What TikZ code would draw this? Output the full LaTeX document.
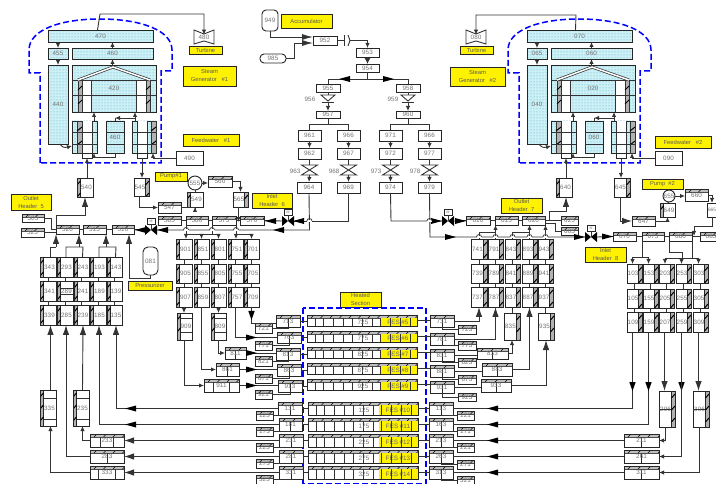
\documentclass[tikz,border=0pt]{standalone}
\usepackage{fontspec}
\setmainfont{Liberation Sans}
\usetikzlibrary{arrows.meta,patterns}
\definecolor{cyl}{RGB}{205,240,245}
\definecolor{cyd}{RGB}{70,170,210}
\tikzset{
 ln/.style={line width=.9pt,draw=black!80},
 ar/.style={ln,-{Latex[length=5pt,width=4.5pt]}},
 ba/.style={ln,-{Latex[length=10pt,width=6.5pt]}},
 txt/.style={font=\fontsize{6.3}{7}\selectfont,text=black!55,inner sep=0pt},
 bx/.style={txt,draw=black!85,line width=.9pt,outer sep=0pt},
 cbx/.style={bx,preaction={fill=cyl},pattern=dots,pattern color=cyd},
 yel/.style={bx,fill=yellow,text=black!65,align=center,font=\fontsize{5.8}{8}\selectfont},
 yin/.style={txt,text=black!60,inner sep=0pt},
 sgd/.style={draw=blue,line width=1.5pt,dash pattern=on 6pt off 3pt},
 stripn/.style={fill=white},
 stript/.style={fill=white,path picture={
   \fill[black!25] (path picture bounding box.north west) rectangle ([yshift=-3pt]path picture bounding box.north east);
   \draw[black!70,line width=.4pt] ([yshift=-3pt]path picture bounding box.north west) -- ([yshift=-3pt]path picture bounding box.north east);
   \foreach \t in {4,13.5,...,120}{\draw[black,line width=.6pt] ([xshift=\t pt,yshift=-3pt]path picture bounding box.north west) -- ++(3,-3);}}},
 stripc/.style={fill=white,path picture={
   \fill[black!25] (path picture bounding box.north west) rectangle ([yshift=-3pt]path picture bounding box.north east);
   \draw[black!70,line width=.4pt] ([yshift=-3pt]path picture bounding box.north west) -- ([yshift=-3pt]path picture bounding box.north east);
   \draw[black!85,line width=.8pt] ([yshift=-3pt]path picture bounding box.north) -- (path picture bounding box.south);
   \foreach \t in {4,14,...,40}{\draw[black,line width=.6pt] ([xshift=\t pt,yshift=-3pt]path picture bounding box.north west) -- ++(3,-3);}}},
 stripl/.style={fill=white,path picture={
   \fill[black!30] (path picture bounding box.north west) rectangle ([xshift=3.5pt]path picture bounding box.south west);
   \draw[black!85,line width=.6pt] ([xshift=3.5pt]path picture bounding box.north west) -- ([xshift=3.5pt]path picture bounding box.south west);
   \foreach \t in {7,19,...,45}{\draw[black,line width=1pt] ([yshift=-\t pt]path picture bounding box.north west) -- ++(3.5,-4);}}},
 stripr/.style={fill=white,path picture={
   \fill[black!30] (path picture bounding box.north east) rectangle ([xshift=-3.5pt]path picture bounding box.south east);
   \draw[black!85,line width=.6pt] ([xshift=-3.5pt]path picture bounding box.north east) -- ([xshift=-3.5pt]path picture bounding box.south east);
   \foreach \t in {7,19,...,45}{\draw[black,line width=1pt] ([xshift=-3.5pt,yshift=-\t pt]path picture bounding box.north east) -- ++(3.5,-4);}}},
}
\newcommand\zwn[1]{#1}
\newcommand\zwl[1]{\hspace*{3pt}#1}
\newcommand\zwr[1]{#1\hspace*{3pt}}
\newcommand\zwt[1]{\raisebox{-1.3pt}{#1}}
\newcommand\zwc[1]{\raisebox{-1.3pt}{#1}}
\newcommand\zsz[4]{\pgfmathsetmacro\zzx{(#1+#3)/2}\pgfmathsetmacro\zzy{(#2+#4)/2}\pgfmathsetmacro\zzw{#3-#1}\pgfmathsetmacro\zzh{#4-#2}}
\newcommand\zb[7]{\zsz{#2}{#3}{#4}{#5}\node[bx,strip#7,minimum width=\zzw pt,minimum height=\zzh pt] (#1) at (\zzx,\zzy) {\csname zw#7\endcsname{#6}};}
\newcommand\zc[6]{\zsz{#2}{#3}{#4}{#5}\node[cbx,minimum width=\zzw pt,minimum height=\zzh pt] (#1) at (\zzx,\zzy) {#6};}
\newcommand\zy[6]{\zsz{#2}{#3}{#4}{#5}\node[yel,minimum width=\zzw pt,minimum height=\zzh pt] (#1) at (\zzx,\zzy) {#6};}
\newcommand\tipL[2]{\fill[black] (#1,#2) -- ++(11,-3) -- ++(0,6) -- cycle;}
\newcommand\tipR[2]{\fill[black] (#1,#2) -- ++(-11,-3) -- ++(0,6) -- cycle;}
\newcommand\tipD[2]{\fill[black] (#1,#2) -- ++(-3.2,-9) -- ++(6.4,0) -- cycle;}
\newcommand\hopx[2]{\fill[white] ({#1-2.5},{#2-.7}) rectangle ({#1+2.5},{#2+.7});\draw[ln,line width=.7pt] ({#1-2.5},#2) arc[start angle=180,end angle=360,radius=2.5];}
\newcommand\vst[4]{\fill[black!30] (#1,#2) rectangle (#3,#4);\draw[ln] (#1,#2) rectangle (#3,#4);\draw[black,line width=1pt] (#1,{#2+10}) -- (#3,{#2+6}) (#1,{#2+24}) -- (#3,{#2+20});}
\newcommand\vlv[3]{\coordinate (#1) at (#2,#3);
  \fill[black] ({#2-6},{#3-5}) -- (#1) -- ({#2-6},{#3+5}) -- cycle;
  \fill[black] ({#2+6},{#3-5}) -- (#1) -- ({#2+6},{#3+5}) -- cycle;
  \node[bx,fill=white,font=\fontsize{3.5}{4}\selectfont,minimum width=8pt,minimum height=5.5pt] (#1m) at (#2,{#3-8.5}) {M};
  \draw[ln] (#1m.south) -- (#1);}
\newcommand\xv[3]{\draw[ln] ({#1-8},#2) -- ({#1+8},#2) -- ({#1-8},#3) -- ({#1+8},#3) -- cycle;}
\newcommand\chk[2]{\draw[ln,fill=white] ({#1-7},{#2-3}) -- ({#1+7},{#2-3}) -- (#1,{#2+3}) -- cycle;\draw[ln] ({#1-6},{#2+4}) -- ({#1+6},{#2+4});}
\newcommand\sgen[9]{%
\begin{scope}[shift={(#2,0)}]
 \draw[sgd] (40,163) -- (40,73) -- (29,73) -- (29,50) .. controls (29,30) and (60,19) .. (100,19) .. controls (140,19) and (172,30) .. (172,50) -- (172,71) -- (161,71) -- (161,163) -- cycle;
 \zc{#1t}{48}{30}{153}{42}{#3}
 \zc{#1sd}{48}{48}{68}{59}{#4}
 \zc{#1sp}{72}{48}{153}{59}{#5}
 \zc{#1v}{48}{65}{68}{144}{#6}
 \zc{#1core}{72}{65}{156}{112}{#7}
 \fill[white] (82,80) rectangle (91,112) (136,80) rectangle (146,112);
 \vst{78}{80}{82}{112}\vst{146}{80}{150}{112}
 \draw[ln] (72,80) -- (156,80);
 \draw[ln] (72,95) -- (156,95);
 \draw[ln] (91,80) -- (91,112);
 \draw[ln] (136,80) -- (136,112);
 \draw[ln,double=white,double distance=1.5pt,line width=.7pt] (78,80) -- (113,67) -- (150,80);
 \zc{#1lb}{72}{121}{97}{153}{}
 \fill[white] (82,121) rectangle (92,153);
 \vst{77}{121}{82}{153}
 \draw[ln] (92,121) -- (92,153);
 \draw[ln] (72,132) -- (97,132);
 \draw[ln] (72,144) -- (97,144);
 \zc{#1rb}{132}{121}{156}{153}{}
 \fill[white] (137,121) rectangle (147,153);
 \vst{151}{121}{156}{153}
 \draw[ln] (137,121) -- (137,153);
 \draw[ln] (147,121) -- (147,153);
 \draw[ln] (132,132) -- (156,132);
 \draw[ln] (132,144) -- (156,144);
 \zc{#1mid}{106}{121}{124}{153}{#8}
 \draw[ln] (106,132) -- (124,132);
 \draw[ln] (106,144) -- (124,144);
 \zb{#1lo}{82}{153}{92}{158}{}{n}
 \zb{#1ro}{137}{153}{147}{158}{}{n}
 \zb{#1fw}{176}{151}{203}{165}{#9}{n}
 \draw[ar] (#1sd.north |- #1t.south) -- (#1sd.north);
 \draw[ar] (#1sd.south) -- (#1v.north);
 \draw[ar] (#1sp.north) -- (#1sp.north |- #1t.south);
 \draw[ar] (#1sp.south |- #1core.north) -- (#1sp.south);
 \draw[ar] ([xshift=9.5pt]#1lb.north) -- ([xshift=9.5pt]#1lb.north |- #1core.south);
 \draw[ar] ([xshift=-9pt]#1rb.north) -- ([xshift=-9pt]#1rb.north |- #1core.south);
 \draw[ar] (135,118) -- (115,118);
 \draw[ln] (115,118) -- (#1mid.north);
 \draw[ar] (#1mid.south) -- (115,157) -- (94,157) -- (94,153);
 \draw[ar] ([xshift=2pt]#1v.south) .. controls +(2,3) and +(-8,2) .. ([yshift=7pt]#1lb.south west);
 \draw[ar] (#1fw.west) -- (153,158) -- (153,153);
\end{scope}}
\begin{document}
\begin{tikzpicture}[x=1pt,y=-1pt]
\useasboundingbox (0,0) rectangle (716,484);
\fill[white] (0,0) rectangle (716,484);

% steam generators
\sgen{L}{0}{470}{455}{460}{440}{420}{460}{490}
\sgen{R}{479}{070}{065}{060}{040}{020}{060}{090}
\foreach \c in {204,476}{\draw[ln,fill=white] ({\c-10},30) -- (\c,34) -- ({\c+10},30) -- ({\c+10},44) -- (\c,41) -- ({\c-10},44) -- cycle;}
\node[txt] (t480) at (204,37) {480};
\node[txt] (t080) at (476,37) {080};
\zy{yt1}{189}{46}{222}{54}{Turbine}
\zy{yt2}{460}{46}{493}{54}{Turbine}
\zy{ysg1}{183}{66}{236}{86}{Steam\\Generator\ \ \ \#1}
\zy{ysg2}{450}{67}{505}{86}{Steam\\Generator\ \ \ \#2}
\zy{yfw1}{183}{134}{239}{146}{Feedwater\ \ \ \#1}
\zy{yfw2}{655}{136}{711}{148}{Feedwater\ \ \ \#2}
\draw[ar] ([xshift=-3pt]Lt.north) -- (100,14) -- (204,14) -- (t480.north);
\draw[ar] ([xshift=-4pt]Rt.north) -- (576,15) -- (476,15) -- (t080.north);

% accumulator tree
\node[bx,fill=white,rounded corners=4pt,minimum width=16pt,minimum height=21pt] (n949) at (270,20.5) {949};
\zy{yacc}{281}{14}{332}{28}{Accumulator}
\node[bx,fill=white,rounded corners=4pt,minimum width=26pt,minimum height=9pt] (n985) at (273,58.5) {985};
\zb{n952}{313}{36}{337}{45}{952}{n}
\zb{n953}{356}{48}{379}{57}{953}{n}
\zb{n954}{356}{64}{379}{72}{954}{n}
\zb{n955}{316}{84}{340}{92}{955}{n}
\zb{n958}{396}{84}{420}{92}{958}{n}
\zb{n957}{316}{111}{340}{118}{957}{n}
\zb{n960}{396}{111}{420}{118}{960}{n}
\foreach \n/\l/\xa/\xb in {961/961/298/321,966/966/337/360,971/971/379/402,976/966/418/441}{\zb{n\n}{\xa}{130}{\xb}{141}{\l}{n}}
\foreach \n/\xa/\xb in {962/298/321,967/337/360,972/379/402,977/418/441}{\zb{n\n}{\xa}{148}{\xb}{159}{\n}{n}}
\foreach \n/\xa/\xb in {964/297/321,969/337/360,974/379/402,979/418/441}{\zb{n\n}{\xa}{182}{\xb}{193}{\n}{n}}
\draw[ln,-{Latex[length=11pt,width=6pt]}] (n949.south) -- (270,37) -- (n952.west |- 0,37);
\draw[ln,-{Latex[length=11pt,width=6pt]}] (n985.east) -- (294,58.5) -- (294,43) -- (n952.west |- 0,43);
\draw[ln] (n952.east) -- (344,40.5);
\draw[ln] (344,35) -- (344,46);
\draw[ln] (348,35) -- (350,40.5) -- (348,46);
\draw[ar] (350,40.5) -- (367.5,40.5) -- (n953.north);
\draw[ln,-{Latex[length=6pt,width=6pt]}] (n953.south) -- (n954.north);
\draw[ln] (n954.south) -- (367.5,79);
\draw[ln] (n955.north) -- (328,79) -- (408,79) -- (n958.north);
\tipL{339}{79}\tipR{394}{79}
\draw[ln] (n955.south) -- (328,95);
\draw[ln] (n958.south) -- (408,95);
\chk{328}{98}\chk{408}{98}
\node[txt] (l956) at (310,99) {956};
\node[txt] (l959) at (393,99) {959};
\draw[ar] (328,102) -- (n957.north);
\draw[ar] (408,102) -- (n960.north);
\draw[ln] (n957.south) -- (328,124);
\draw[ln] (n961.north) -- (309.5,124) -- (348.5,124) -- (n966.north);
\draw[ln] (n960.south) -- (408,124);
\draw[ln] (n971.north) -- (390.5,124) -- (429.5,124) -- (n976.north);
\foreach \a/\b/\c/\d/\x in {961/962/963/964/309.5,966/967/968/969/348.5,971/972/973/974/390.5,976/977/978/979/429.5}{
  \draw[ar] (n\a.south) -- (n\b.north);
  \draw[ln] (n\b.south) -- (\x,165);
  \xv{\x}{165}{175}
  \node[txt,anchor=east] (l\c) at ({\x-9},171) {\c};
  \draw[ar] (\x,175) -- (n\d.north);
}
% headers, left
\zy{yo5}{11}{194}{51}{210}{Outlet\\Header\ \ 5}
\zy{yi6}{252}{193}{292}{208}{Inlet\\Header\ \ 6}
\zy{yo7}{501}{198}{542}{213}{Outlet\\Header\ \ 7}
\zy{yi8}{585}{247}{626}{262}{Inlet\\Header\ \ 8}
\zy{yp1}{155}{172}{187}{181}{Pump\#1}
\zy{yp2}{642}{179}{683}{189}{Pump\ \ \#2}
\zy{ypr}{128}{281}{172}{290}{Pressurizer}
\zy{yhs}{340}{292}{381}{307}{Heated\\Section}
\foreach \n/\xa/\xb in {520/56/79,515/83/106,510/112/134}{\zb{n\n}{\xa}{225}{\xb}{234}{\n}{t}}
\foreach \n/\xa/\xb in {585/158/181,580/186/208,575/212/236,570/240/264}{\zb{n\n}{\xa}{216}{\xb}{225}{\n}{t}}
\zb{n505}{22}{214}{44}{222}{505}{t}
\zb{n525}{21}{228}{44}{237}{525}{t}
\zb{n540}{77}{178}{93}{197}{540}{l}
\zb{n545}{134}{178}{149}{196}{545}{r}
\zb{n547}{158}{202}{181}{213}{547}{t}
\zb{n549}{187}{192}{203}{207}{549}{l}
\zb{n560}{208}{176}{232}{187}{560}{t}
\zb{n565}{233}{192}{248}{207}{565}{r}
\node[bx,circle,fill=white,minimum size=14pt] (n555) at (195,183) {555};
\node[bx,fill=white,rounded corners=5pt,minimum width=15pt,minimum height=28pt] (n081) at (150.5,261) {081};
\vlv{vA}{151}{230}
\vlv{vB}{288}{221}
\vlv{vC}{448}{221}
\vlv{vD}{591}{237}
% headers, right
\foreach \n/\xa/\xb in {610/466/490,615/495/518,620/522/545}{\zb{n\n}{\xa}{216}{\xb}{225}{\n}{t}}
\zb{n625}{561}{216}{578}{225}{625}{t}
\zb{n605}{561}{227}{578}{235}{605}{t}
\foreach \n/\xa/\xb in {670/613/636,675/642/664,680/669/692}{\zb{n\n}{\xa}{232}{\xb}{241}{\n}{t}}
\zb{n685}{700}{232}{722}{241}{685}{t}
\zb{n640}{556}{178}{572}{197}{640}{l}
\zb{n645}{614}{178}{630}{197}{645}{r}
\zb{n647}{632}{216}{655}{226}{647}{t}
\zb{n649}{660}{203}{675}{217}{649}{l}
\zb{n660}{685}{189}{708}{201}{660}{t}
\zb{n665}{707}{203}{717}{217}{\fontsize{4.8}{5}\selectfont 665}{n}
\node[bx,circle,fill=white,minimum size=12pt] (n655) at (669,196) {655};

% outlet columns, left
\foreach \n/\xa/\xb in {343/40/56,293/57/73,243/74/89,193/90/106,143/107/122}{\zb{n\n}{\xa}{257}{\xb}{277}{\n}{l}}
\foreach \n/\xa/\xb in {341/40/56,289/57/73,241/74/89,189/90/106,139/107/122}{\zb{n\n}{\xa}{281}{\xb}{301}{\n}{l}}
\foreach \n/\xa/\xb in {339/40/56,285/57/73,239/74/89,185/90/106,135/107/122}{\zb{n\n}{\xa}{305}{\xb}{325}{\n}{l}}
\draw[ln] (61,288) -- (73,288);
\draw[ln] (61,294) -- (73,294);
\foreach \a/\b/\c in {343/341/339,293/289/285,243/241/239,193/189/185,143/139/135}{\draw[ln] (n\a.south) -- (n\b.north) (n\b.south) -- (n\c.north);}
\zb{n335}{40}{390}{56}{426}{335}{l}
\zb{n235}{73}{390}{89}{426}{235}{l}
\foreach \xa/\xb in {44/56,77/89}{\draw[ln] (\xa,398) -- (\xb,398);\draw[ln] (\xa,419) -- (\xb,419);}
\foreach \n/\ya/\yb in {233/434/447,283/450/463,333/466/479}{\zb{n\n}{90}{\ya}{124}{\yb}{\n}{t}}
\draw[ln] (100,437) -- (100,447);
\draw[ln] (113,437) -- (113,447);
\draw[ln] (107,453) -- (107,463);
\draw[ln] (98,469) -- (98,479);
\draw[ln] (115,469) -- (115,479);

% inlet columns, left
\foreach \n/\xa/\xb in {901/176/192,851/194/209,801/211/226,751/228/243,701/244/259}{\zb{n\n}{\xa}{239}{\xb}{259}{\n}{l}}
\foreach \n/\xa/\xb in {905/176/192,855/194/209,805/211/226,755/228/243,705/244/259}{\zb{n\n}{\xa}{264}{\xb}{283}{\n}{l}}
\foreach \n/\xa/\xb in {907/176/192,859/194/209,807/211/226,757/228/243,709/244/259}{\zb{n\n}{\xa}{287}{\xb}{307}{\n}{l}}
\foreach \a/\b/\c in {901/905/907,851/855/859,801/805/807,751/755/757,701/705/709}{\draw[ln] (n\a.south) -- (n\b.north) (n\b.south) -- (n\c.north);}
\zb{n909}{177}{313}{192}{340}{909}{l}
\zb{n809}{211}{313}{226}{340}{809}{l}
\foreach \xa/\xb in {181/192,215/226}{\draw[ln] (\xa,318) -- (\xb,318);\draw[ln] (\xa,332) -- (\xb,332);}
\zb{n811}{225}{347}{246}{359}{811}{c}
\zb{n861}{216}{363}{239}{376}{861}{c}
\zb{n911}{204}{379}{239}{392}{911}{t}
\draw[ln] (213,382) -- (213,392);
\draw[ln] (229,382) -- (229,392);

% columns, right
\foreach \n/\xa/\xb in {741/471/487,791/488/503,843/505/520,893/522/537,943/538/553}{\zb{n\n}{\xa}{239}{\xb}{259}{\n}{r}}
\foreach \n/\xa/\xb in {739/471/487,789/488/503,841/505/520,889/522/537,941/538/553}{\zb{n\n}{\xa}{264}{\xb}{283}{\n}{r}}
\foreach \n/\xa/\xb in {737/471/487,787/488/503,837/505/520,887/522/537,937/538/553}{\zb{n\n}{\xa}{287}{\xb}{307}{\n}{r}}
\foreach \a/\b/\c in {741/739/737,791/789/787,843/841/837,893/889/887,943/941/937}{\draw[ln] (n\a.south) -- (n\b.north) (n\b.south) -- (n\c.north);}
\zb{n835}{504}{313}{520}{340}{835}{r}
\zb{n935}{538}{313}{554}{340}{935}{r}
\zb{n833}{477}{348}{508}{359}{833}{c}
\zb{n883}{482}{363}{512}{376}{883}{c}
\zb{n933}{481}{379}{511}{392}{933}{c}
\foreach \n/\xa/\xb in {103/627/642,153/643/658,203/659/674,253/676/691,303/693/708}{\zb{n\n}{\xa}{264}{\xb}{283}{\n}{r}}
\foreach \n/\xa/\xb in {105/627/642,155/643/658,205/659/674,255/676/691,305/693/708}{\zb{n\n}{\xa}{289}{\xb}{308}{\n}{r}}
\foreach \n/\xa/\xb in {109/627/642,159/643/658,207/659/674,259/676/691,309/693/708}{\zb{n\n}{\xa}{312}{\xb}{332}{\n}{r}}
\foreach \a/\b/\c in {103/105/109,153/155/159,203/205/207,253/255/259,303/305/309}{\draw[ln] (n\a.south) -- (n\b.north) (n\b.south) -- (n\c.north);}
\zb{n206}{659}{391}{675}{427}{206}{r}
\zb{n306}{693}{391}{709}{427}{306}{r}
\draw[ln] (659,409) -- (671,409);
\draw[ln] (693,409) -- (705,409);
\foreach \n/\ya/\yb in {211/434/447,261/450/463,311/466/479}{\zb{n\n}{624}{\ya}{659}{\yb}{\n}{c}}

% heated section
\foreach \n/\ya/\f in {725/315/5,775/331/6,825/347/7,875/363/8,925/379/9}{
  \pgfmathsetmacro\yb{\ya+11}\pgfmathsetmacro\yc{\ya+3}\pgfmathsetmacro\yd{\ya+7}
  \zb{h\n}{307}{\ya}{417}{\yb}{}{t}
  \fill[yellow] (380,\yc) rectangle (417,\yb);
  \node[yin] (f\f) at (398,\yd) {FES \#\f};
  \foreach \v in {315,323,333,343,352,362,372,380,390,400,410}{\draw[ln,line width=.7pt] (\v,\yc) -- (\v,\yb);}
  \node[txt] (x\n) at (363,\yd) {\n};
}
\foreach \n/\ya/\f in {125/402/10,175/418/11,225/434/12,275/450/13,325/466/14}{
  \pgfmathsetmacro\yb{\ya+13}\pgfmathsetmacro\yc{\ya+3}\pgfmathsetmacro\yd{\ya+8}
  \zb{h\n}{308}{\ya}{418}{\yb}{}{t}
  \fill[yellow] (379,\yc) rectangle (418,\yb);
  \node[yin] (f\f) at (398,\yd) {FES \#\f};
  \foreach \v in {316,324,334,344,353,363,373,381,391,401,411}{\draw[ln,line width=.7pt] (\v,\yc) -- (\v,\yb);}
  \node[txt] (x\n) at (364,\yd) {\n};
}
\draw[sgd] (303,308) rectangle (426,483.5);
\foreach \n/\xa/\xb/\ya/\yb in {713/276/300/315/327,763/277/301/332/343,813/276/300/348/360,863/277/301/364/376,913/278/302/380/392,131/278/302/402/415,181/279/302/418/431,231/279/303/434/447,281/279/303/450/463,331/279/303/466/479,731/430/454/315/327,781/430/454/333/345,831/430/454/349/361,881/430/454/365/377,931/430/454/381/393,113/429/453/402/415,163/429/453/418/431,213/429/453/434/447,263/429/453/450/463,313/429/453/466/479}{\zb{n\n}{\xa}{\ya}{\xb}{\yb}{\n}{c}}
\foreach \n/\xa/\xb/\ya/\yb in {721/255/272/323/333,771/255/272/341/350,821/255/272/356/366,871/255/272/374/383,921/255/272/390/399,123/256/273/411/420,173/256/273/427/436,223/256/273/443/452,273/256/273/459/468,323/256/273/475/484,723/458/476/325/334,773/458/476/341/350,823/458/476/358/367,873/458/476/375/384,923/458/476/393/401,121/457/474/411/420,171/457/474/427/436,221/457/474/443/452,271/457/474/460/469,321/457/474/476/484}{\zb{n\n}{\xa}{\ya}{\xb}{\yb}{\n}{t}}
\foreach \a/\s/\h/\b/\t in {713/721/725/731/723,763/771/775/781/773,813/821/825/831/823,863/871/875/881/873,913/921/925/931/923,131/123/125/113/121,181/173/175/163/171,231/223/225/213/221,281/273/275/263/271,331/323/325/313/321}{
  \draw[ln] (n\s.east) -| (n\a.south);
  \draw[ln] (n\a.east) -- (n\a.east -| h\h.west);
  \draw[ln] (h\h.east) -- (h\h.east -| n\b.west);
  \draw[ln] (n\b.south) |- (n\t.west);
}

% connectors, steam generators and pumps
\draw[ar] ([xshift=2pt]n540.north) -- (Llo.south);
\draw[ar] ([xshift=2pt]n640.north) -- (Rlo.south);
\draw[ar] (Lro.south) -- (Lro.south |- n545.north);
\draw[ar] (Rro.south) -- (Rro.south |- n645.north);
\draw[ba] (n520.north west) -- (56,215) -| (n540.south);
\draw[ln] (n505.east) -- (51,218) -- (51,229.5) -- (n520.west);
\draw[ln] (n525.east) -- (n525.east -| n520.west);
\draw[ln] (n520.east) -- (n515.west) (n515.east) -- (n510.west);
\draw[ar] ([xshift=-2.5pt]n545.south) |- (n547.west);
\draw[ar] (n547.east) -| (n549.south);
\draw[ln] (n549.north) -- (n555.south);
\draw[ar] (n555.east) -- (n555.east -| n560.west);
\draw[ar] (n560.east) -| (n565.north);
\draw[ar] ([xshift=-2pt]n565.south) -- ++(0,15);
\draw[ln] (n585.east) -- (n580.west) (n580.east) -- (n575.west) (n575.east) -- (n570.west);
\draw[ba] ([xshift=-2pt]n645.south) |- (n647.west);
\draw[ar] (n647.east) -| (n649.south);
\draw[ln] (n649.north) -- (n655.south);
\draw[ar] (n655.east) -- (n655.east -| n660.west);
\draw[ar] (n660.east) -| (n665.north);
\draw[ar] (n665.south) -- (712,226) -- (694,226) -- (694,236);
\draw[ln] (n670.east) -- (n675.west) (n675.east) -- (n680.west) (n680.east) -- (n685.west);
\draw[ba] (n620.east) -- (549,220.5) -- (549,211) -- (566,211) -- ([xshift=2pt]n640.south);
\draw[ln] (n620.east) -- (n620.east -| n625.west);
\draw[ln] (n620.south east) ++(0,-2) -- (555,223) -- (555,231) -- (n605.west);
\draw[ln] (n610.east) -- (n615.west) (n615.east) -- (n620.west);

% pressurizer and outlet columns to header
\draw[ln] ([xshift=2pt]n343.north) -- (50,247) -- (56,247);
\draw[ba] (56,247) -- (n520.south west);
\draw[ln] ([xshift=1pt]n293.north) -- (66,247) -- (83,247) -- ([xshift=1pt]n243.north);
\draw[ba] (79,247) -- (n520.south east);
\draw[ln] ([xshift=1pt]n193.north) -- (99,247) -- (116,247) -- ([xshift=1pt]n143.north);
\draw[ba] (106,247) -- (n515.south east);
\draw[ba] (n081.south) -- (150.5,278) -- (129,278) -- ([xshift=6pt]n510.south);

% feed lines, centre
\draw[ln] (n974.south) -- (391,221) -- (442,221);
\draw[ln] (454,221) -- (n610.west);
\draw[ln] (n969.south) -- (348.5,221) -- (294,221);
\draw[ln] (282,221) -- (n570.east);
\draw[ln] (n964.south) -- (309.5,230) -- (157,230);
\draw[ln] (145,230) -- (n510.east);
\draw[ln] (n979.south) -- (430,237) -- (585,237);
\draw[ln] (597,237) -- (n670.west);
\tipL{265}{221}\tipL{293}{221}\tipL{135}{230}\tipL{157}{230}\tipL{273}{230}
\tipR{442}{221}\tipR{466}{221}\tipR{456}{237}\tipR{585}{237}\tipR{613}{236.5}
\hopx{309.5}{221}\hopx{429.5}{221}

% heads to inlet columns, left
\draw[ar] (n580.south west) -- (n580.south west |- n901.north);
\draw[ar] (186,234) -| (n851.north);
\draw[ln] (n575.south west) -- (212,234) -- (186,234);
\draw[ar] (212,234) -| (n801.north);
\draw[ar] (n575.south east) -- (n575.south east |- n751.north);
\draw[ar] (236,234) -| (n701.north);
\hopx{186}{230}\hopx{212}{230}\hopx{236}{230}
\draw[ar] (n907.south) -- (n907.south |- n909.north);
\draw[ar] (n807.south) -- (n807.south |- n809.north);
\draw[ar] (n909.south) |- (n911.west);
\draw[ar] (n859.south) |- (n861.west);
\draw[ar] (n809.south) |- (n811.west);
\draw[ln] (n757.south) |- (n763.west);
\draw[ln] (n709.south) |- ([yshift=-2.5pt]n713.west);
\draw[ln] (n811.east) -- (n811.east -| n813.west);
\draw[ln] (n861.east) -- (n861.east -| n863.west);
\draw[ln] (n911.east) -- (n911.east -| n913.west);
\tipD{251.5}{320}
\tipR{257}{337.5}\tipR{257}{353}\tipR{257}{369.5}\tipR{257}{385.5}

% right columns
\draw[ln] (n741.north) -- (479,232) -- (n791.north |- 0,232);
\draw[ar] (n791.north) -- (n791.north |- n615.south);
\draw[ln] (n843.north) -- (512.5,232) -- (n893.north |- 0,232);
\draw[ar] (n893.north) -- (n893.north |- n620.south);
\draw[ar] (n943.north) -- (n943.north |- n620.south);
\foreach \x in {479,495.5,512.5,529.5,545.5}{\hopx{\x}{237}}
\draw[ba] (n731.east) -| (n737.south);
\draw[ba] (n781.east) -| (n787.south);
\draw[ln] (n831.east) -- (n831.east -| n833.west);
\draw[ln] (n881.east) -- (n881.east -| n883.west);
\draw[ln] (n931.east) -- (n931.east -| n933.west);
\draw[ar] (n833.east) -| (n835.south);
\draw[ba] (n883.east) -| (n887.south);
\draw[ba] (n933.east) -| (n935.south);
\draw[ln] (n837.south) -- (n837.south |- n835.north);
\draw[ln] (n937.south) -- (n937.south |- n935.north);

% inlet, right
\draw[ln] (n675.south west) -- (642,257);
\draw[ln] (632.5,257) -- (648.5,257);
\draw[ar] (632.5,257) -- (632.5,264);
\draw[ar] (648.5,257) -- (648.5,264);
\draw[ln] (n680.south west) -- (669,252) -- (682,252) -- (682,258);
\draw[ln] (n680.south east) -- (692,258);
\draw[ln] (665,258) -- (698.5,258);
\draw[ar] (665,258) -- (665,264);
\draw[ar] (681.5,258) -- (681.5,264);
\draw[ar] (698.5,258) -- (698.5,264);
\draw[ln] ([xshift=-2pt]n109.south) |- (n113.east);
\draw[ln] ([xshift=-2pt]n159.south) |- (n163.east);
\tipD{632.5}{391}\tipD{648.5}{391}\tipD{681.5}{391}
\draw[ba] ([xshift=-2pt]n207.south) -- ([xshift=-2pt]n207.south |- n206.north);
\draw[ba] ([xshift=-2pt]n309.south) -- ([xshift=-2pt]n309.south |- n306.north);
\draw[ar] ([xshift=-2pt]n206.south) |- (n211.east);
\draw[ar] ([xshift=-2pt]n259.south) |- (n261.east);
\draw[ar] ([xshift=-2pt]n306.south) |- (n311.east);
\draw[ln] (n211.west) -- (n211.west -| n213.east);
\draw[ln] (n261.west) -- (n261.west -| n263.east);
\draw[ln] (n311.west) -- (n311.west -| n313.east);
\foreach \y in {408.5,424.5,440.5,456.5,472.5}{\tipL{487}{\y}}

% returns, left
\draw[ba] ([xshift=2.5pt]n335.north) -- ([xshift=2.5pt]n339.south);
\draw[ba] ([xshift=1.5pt]n235.north) -- ([xshift=1.5pt]n239.south);
\draw[ar] (n333.west) -| ([xshift=2.5pt]n335.south);
\draw[ar] (n233.west) -| ([xshift=1.5pt]n235.south);
\draw[ba] (n281.west) -- (n281.west -| n283.east);
\draw[ba] (n231.west) -- (n231.west -| n233.east);
\draw[ba] (n331.west) -- (n331.west -| n333.east);
\draw[ba] (n283.west) -| ([xshift=1pt]n285.south);
\draw[ba] (n181.west) -| ([xshift=1pt]n185.south);
\draw[ba] (n131.west) -| ([xshift=1.5pt]n135.south);
\tipL{125}{408.5}\tipL{125}{424.5}
\end{tikzpicture}
\end{document}
